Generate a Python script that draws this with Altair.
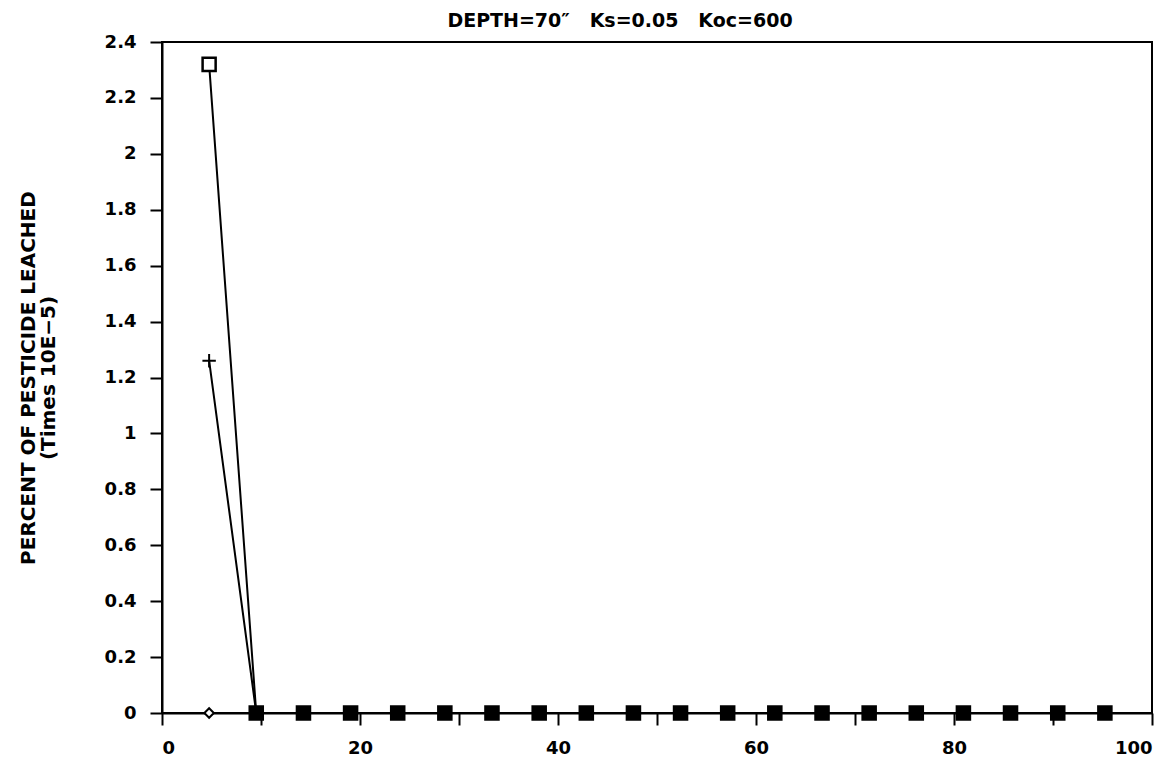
import altair as alt
import pandas as pd

x_vals = [4.76, 9.52, 14.29, 19.05, 23.81, 28.57, 33.33, 38.10, 42.86, 47.62,
          52.38, 57.14, 61.90, 66.67, 71.43, 76.19, 80.95, 85.71, 90.48, 95.24]
square_vals = [2.32] + [0.0] * 19
plus_vals = [1.26] + [0.0] * 19
diamond_vals = [0.0] * 20

x_ticks = [0, 10, 20, 30, 40, 50, 60, 70, 80, 90, 100]
y_ticks = [0, 0.2, 0.4, 0.6, 0.8, 1, 1.2, 1.4, 1.6, 1.8, 2, 2.2, 2.4]

rows = []
for name, vals in [("diamond", diamond_vals), ("plus", plus_vals), ("square", square_vals)]:
    for xv, yv in zip(x_vals, vals):
        rows.append({"series": name, "x": xv, "y": yv})
df = pd.DataFrame(rows)

FONT = "DejaVu Sans"
NB = "\u00a0"

xenc = alt.X("x:Q", scale=alt.Scale(domain=[0, 100], nice=False),
             axis=alt.Axis(values=x_ticks, labelExpr="datum.value % 20 == 0 ? datum.label : ''",
                           title=None, grid=False, tickSize=12, labelPadding=14,
                           labelFont=FONT, labelFontSize=18, labelFontWeight="bold",
                           labelColor="black", domainColor="black", domainWidth=2,
                           tickColor="black", tickWidth=2))
yenc = alt.Y("y:Q", scale=alt.Scale(domain=[0, 2.4], nice=False),
             axis=alt.Axis(values=y_ticks, format="~g",
                           title=["PERCENT OF PESTICIDE LEACHED", "(Times 10E\u22125)"],
                           titleFont=FONT, titleFontSize=20, titleFontWeight="bold",
                           titleColor="black", titleX=-124, titleLineHeight=20,
                           grid=False, tickSize=12, labelPadding=14,
                           labelFont=FONT, labelFontSize=18, labelFontWeight="bold",
                           labelColor="black", domainColor="black", domainWidth=2,
                           tickColor="black", tickWidth=2))

base = alt.Chart(df)

lines = base.mark_line(color="black", strokeWidth=2).encode(
    x=xenc, y=yenc, detail="series:N", order="x:Q")

sq = base.transform_filter(alt.datum.series == "square").mark_point(
    shape="square", size=170, strokeWidth=2.5, color="black", opacity=1).encode(
    x="x:Q", y="y:Q",
    fill=alt.condition(alt.datum.y > 0, alt.value("white"), alt.value("black")))

pl2 = base.transform_filter((alt.datum.series == "plus") & (alt.datum.y > 0)).mark_point(
    shape="M-1,0L1,0M0,-1L0,1", size=180, strokeWidth=2, color="black", filled=False, opacity=1).encode(
    x="x:Q", y="y:Q")

dm = base.transform_filter((alt.datum.series == "diamond") & (alt.datum.x < 6)).mark_point(
    shape="diamond", size=90, strokeWidth=2, color="black", fill="white", filled=False, opacity=1).encode(
    x="x:Q", y="y:Q")

title_text = "DEPTH=70\u2033" + NB * 3 + "Ks=0.05" + NB * 3 + "Koc=600"

chart = alt.layer(lines, sq, pl2, dm).properties(
    width=990, height=671,
    autosize=alt.AutoSizeParams(type="none"),
    padding={"left": 162, "top": 42, "right": 17, "bottom": 56},
    background="white",
    title=alt.TitleParams(title_text, font=FONT, fontSize=19,
                          fontWeight="bold", color="black", offset=2, anchor="middle", dx=-37),
).configure_view(stroke="black", strokeWidth=2)

chart.save("out.html", embed_options={"renderer": "svg", "actions": False})
